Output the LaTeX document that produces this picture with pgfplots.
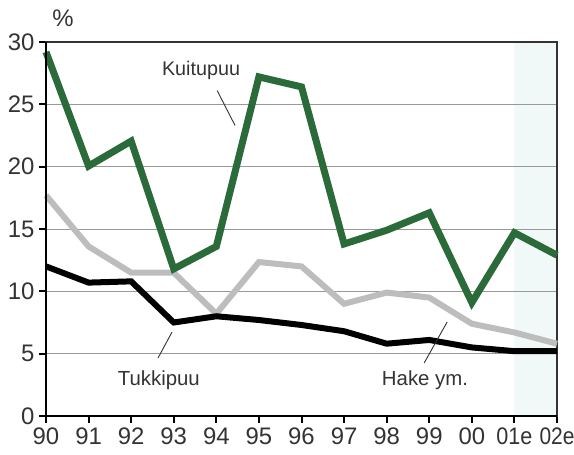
\documentclass[border=0pt]{standalone}
\usepackage{pgfplots}
\pgfplotsset{compat=1.18}
\usepackage{graphicx}
\usepackage{fontspec}
\setmainfont{Liberation Sans}
\definecolor{kgreen}{HTML}{2B6B3A}
\definecolor{hgray}{HTML}{BDBDBD}
\definecolor{shade}{HTML}{F0F9F7}
\begin{document}
\begin{tikzpicture}
\begin{axis}[
  set layers, scale only axis, width=511bp, height=374bp,
  xmin=0, xmax=12, ymin=0, ymax=30,
  xtick={0,...,12},
  xticklabels={90,91,92,93,94,95,96,97,98,99,00,{\resizebox{36bp}{\height}{01e}},{\resizebox{35bp}{\height}{02e}}},
  ytick={0,5,...,30},
  ymajorgrids, grid style={black!40, line width=0.7bp},
  tick align=outside, xtick pos=left, ytick pos=left,
  major tick length=7bp,
  tick style={black, line width=2bp},
  axis line style={line width=1.6bp, black!80},
  ticklabel style={font=\fontsize{24}{26}\selectfont, text=black!80},
  xticklabel style={yshift=-1bp, inner xsep=0pt},
  yticklabel style={xshift=-1bp},
  /pgf/number format/assume math mode=true,
  clip=false,
]
\addplot[fill=shade, draw=none, on layer=axis background] coordinates {(11,0) (12,0) (12,30) (11,30)} \closedcycle;
\addplot[hgray, line width=6bp, line join=miter] coordinates {
(0,17.7) (1,13.6) (2,11.5) (3,11.5) (4,8.2) (5,12.35) (6,12.0) (7,9.0) (8,9.9) (9,9.5) (10,7.4) (11,6.7) (12,5.8)};
\addplot[black, line width=6bp, line join=miter] coordinates {
(0,12.0) (1,10.7) (2,10.8) (3,7.5) (4,8.0) (5,7.7) (6,7.3) (7,6.8) (8,5.8) (9,6.1) (10,5.5) (11,5.2) (12,5.2)};
\addplot[kgreen, line width=7bp, line join=miter] coordinates {
(0,29.2) (1,20.05) (2,22.05) (3,11.8) (4,13.6) (5,27.2) (6,26.4) (7,13.8) (8,14.9) (9,16.3) (10,9.1) (11,14.7) (12,12.9)};
\draw[line width=2.6bp, black] (rel axis cs:0,1) -- (rel axis cs:0,0) -- (rel axis cs:1,0);
\node[font=\fontsize{24}{26}\selectfont, text=black!80, inner sep=0pt] at (axis cs:3.64,27.7) {\resizebox{78bp}{!}{Kuitupuu}};
\draw[black!80, line width=0.9bp] (axis cs:4.02,26.1) -- (axis cs:4.44,23.3);
\node[font=\fontsize{24}{26}\selectfont, text=black!80, inner sep=0pt] at (axis cs:2.65,2.9) {\resizebox{82bp}{!}{Tukkipuu}};
\draw[black!80, line width=0.9bp] (axis cs:2.63,4.65) -- (axis cs:2.96,6.74);
\node[font=\fontsize{24}{26}\selectfont, text=black!80, inner sep=0pt] at (axis cs:8.9,2.9) {\resizebox{86bp}{!}{Hake ym.}};
\draw[black!80, line width=0.9bp] (axis cs:8.88,4.25) -- (axis cs:9.42,7.54);
\node[font=\fontsize{24}{26}\selectfont, text=black!80] at (axis cs:0.4,31.9) {\%};
\end{axis}
\pgfresetboundingbox
\useasboundingbox (-46bp,-39bp) rectangle (528bp,416bp);
\end{tikzpicture}
\end{document}
